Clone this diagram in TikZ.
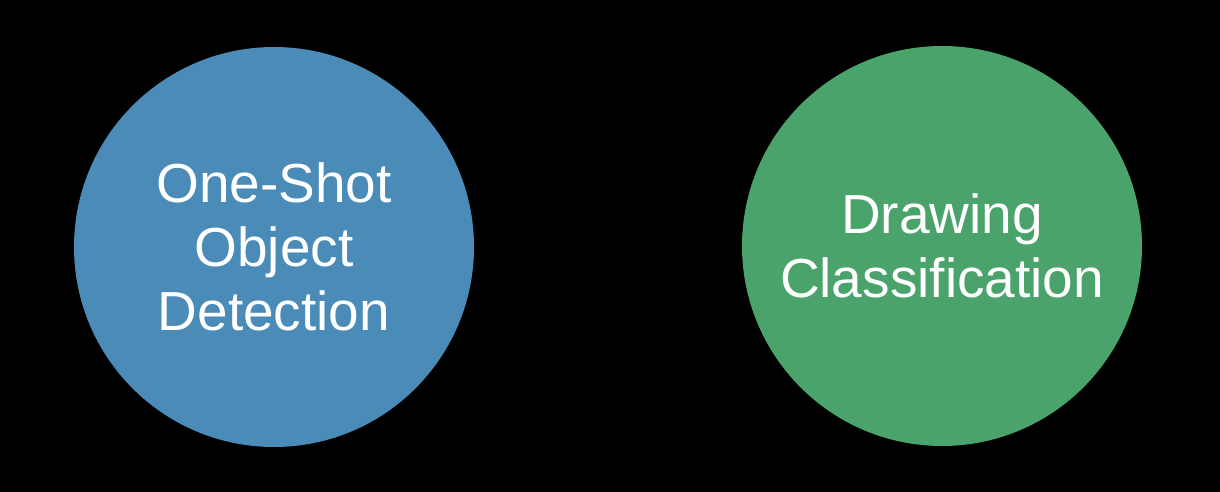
\documentclass[tikz,border=0pt]{standalone}
\usepackage{fontspec}
\setmainfont{Liberation Sans}
\definecolor{bluec}{HTML}{4A8BB8}
\definecolor{greenc}{HTML}{4AA36B}
\begin{document}
\begin{tikzpicture}[x=1pt,y=-1pt,
  topic/.style={circle,minimum size=400pt,inner sep=0pt,text=white,align=center,
    font=\fontsize{55}{64}\selectfont}]
\fill[black] (0,0) rectangle (1220,492);
\useasboundingbox (0,0) rectangle (1220,492);
\node[topic,fill=bluec] (ood) at (274,247) {One-Shot\\Object\\Detection};
\node[topic,fill=greenc] (dc) at (942,246) {Drawing\\Classification};
\end{tikzpicture}
\end{document}
